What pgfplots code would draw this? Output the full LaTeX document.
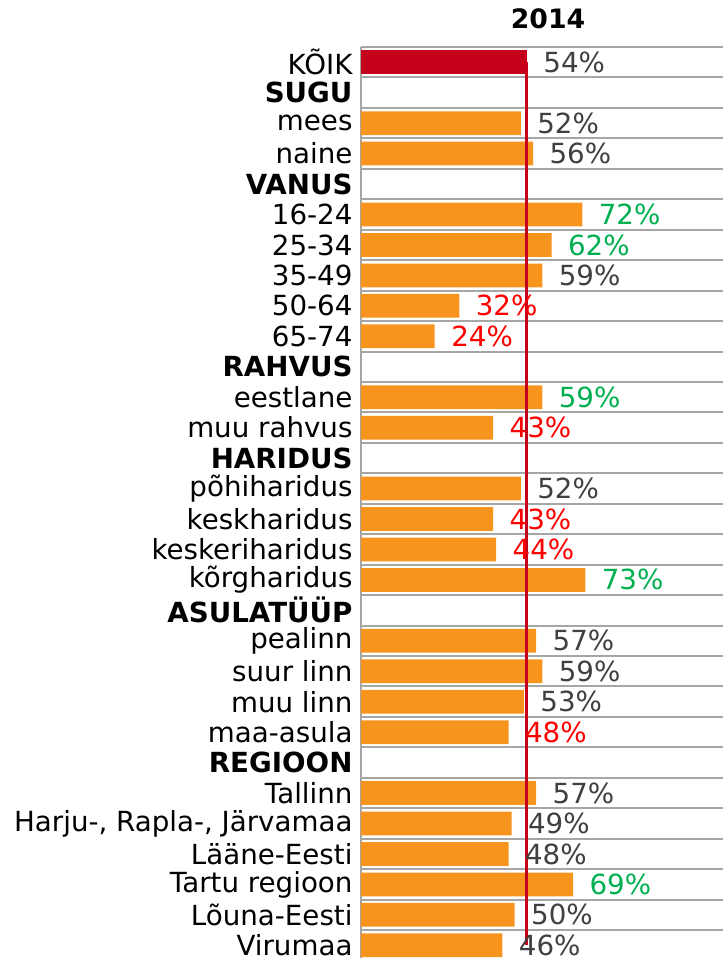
\documentclass[border=0pt]{standalone}
\usepackage{fontspec}
\setmainfont{DejaVu Sans}
\usepackage{pgfplots}
\pgfplotsset{compat=1.18}
\definecolor{barorange}{RGB}{247,148,30}
\definecolor{barred}{RGB}{197,0,26}
\definecolor{lblgreen}{RGB}{0,176,80}
\definecolor{lblred}{RGB}{255,0,0}
\definecolor{lblgray}{RGB}{64,64,64}
\definecolor{gridgray}{RGB}{166,166,166}
\newcommand{\lf}{\fontsize{27.7}{32}\selectfont}
\begin{document}
\begin{tikzpicture}
\begin{axis}[
  at={(0,0)}, anchor=north west,
  scale only axis, width=362pt, height=913.5pt,
  xmin=0, xmax=117.8, ymin=-0.5, ymax=29.5, y dir=reverse,
  xbar, bar width=0.78, bar shift=0pt,
  axis x line=none,
  axis y line*=left,
  y axis line style={-, gridgray, line width=2pt},
  ytick={0,...,29},
  yticklabels={{KÕIK},{\textbf{SUGU}},{mees},{naine},{\textbf{VANUS}},{16-24},{25-34},{35-49},{50-64},{65-74},{\textbf{RAHVUS}},{eestlane},{muu rahvus},{\textbf{HARIDUS}},{põhiharidus},{keskharidus},{keskeriharidus},{kõrgharidus},{\textbf{ASULATÜÜP}},{pealinn},{suur linn},{muu linn},{maa-asula},{\textbf{REGIOON}},{Tallinn},{Harju-, Rapla-, Järvamaa},{Lääne-Eesti},{Tartu regioon},{Lõuna-Eesti},{Virumaa}},
  major tick length=0, minor tick length=0,
  minor ytick={-0.5,0.5,...,29.5},
  yminorgrids, minor grid style={gridgray, line width=2pt},
  yticklabel style={font=\lf, text=black, xshift=-5pt},
  title={2014},
  title style={font=\bfseries\fontsize{26.7}{31}\selectfont, at={(0.5,1)}, anchor=base, yshift=13pt, xshift=6pt},
  /pgf/number format/assume math mode=true,
  clip=false,
]
\addplot[fill=barred, draw=none, nodes near coords={\pgfmathprintnumber{\pgfplotspointmeta}\%},
  nodes near coords style={font=\lf, anchor=west, xshift=13pt, text=lblgray}]
  coordinates {(54,0)};
\addplot[fill=barorange, draw=none, nodes near coords={\pgfmathprintnumber{\pgfplotspointmeta}\%},
  nodes near coords style={font=\lf, anchor=west, xshift=13pt, text=lblgray}]
  coordinates {(52,2) (56,3) (59,7) (52,14) (57,19) (59,20) (53,21) (57,24) (49,25) (48,26) (50,28) (46,29)};
\addplot[fill=barorange, draw=none, nodes near coords={\pgfmathprintnumber{\pgfplotspointmeta}\%},
  nodes near coords style={font=\lf, anchor=west, xshift=13pt, text=lblgreen}]
  coordinates {(72,5) (62,6) (59,11) (73,17) (69,27)};
\addplot[fill=barorange, draw=none, nodes near coords={\pgfmathprintnumber{\pgfplotspointmeta}\%},
  nodes near coords style={font=\lf, anchor=west, xshift=13pt, text=lblred}]
  coordinates {(32,8) (24,9) (43,12) (43,15) (44,16) (48,22)};
\addplot[sharp plot, draw=barred, line width=3pt, mark=none] coordinates {(54,0) (54,29)};
\end{axis}
\pgfresetboundingbox
\path[use as bounding box] (-361pt,47pt) rectangle (362pt,-911pt);
\end{tikzpicture}
\end{document}
